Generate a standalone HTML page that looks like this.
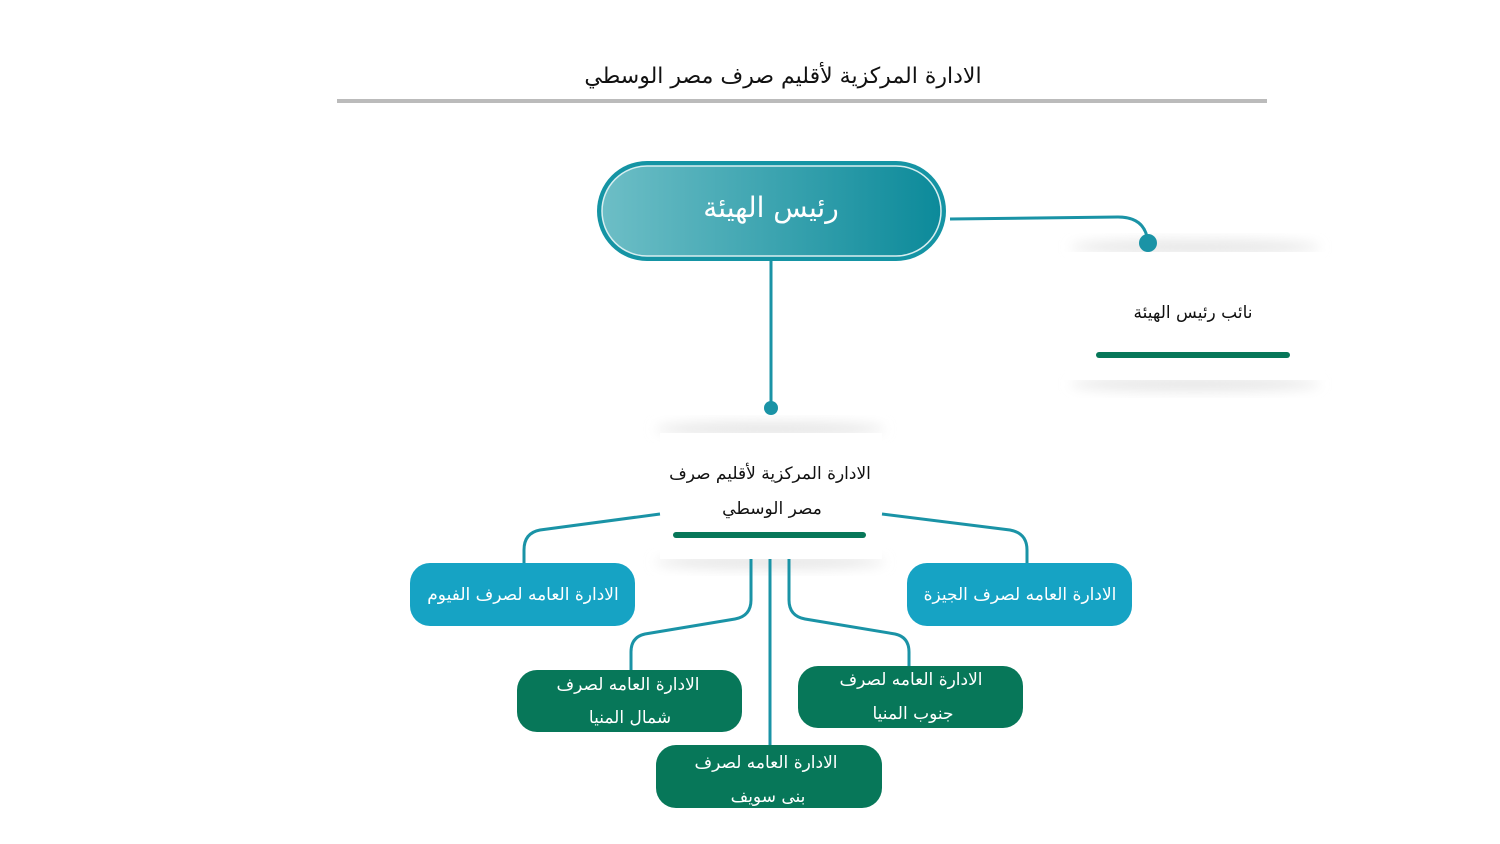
<!DOCTYPE html>
<html><head><meta charset="utf-8"><style>
html,body{margin:0;padding:0;background:#fff;width:1500px;height:844px;overflow:hidden}
svg text{font-family:"DejaVu Sans","Noto Sans CJK SC",sans-serif}
</style></head><body>
<svg width="1500" height="844" viewBox="0 0 1500 844" xmlns="http://www.w3.org/2000/svg">
<defs>
<linearGradient id="g" x1="0" x2="1" y1="0" y2="0"><stop offset="0" stop-color="#6dbec6"/><stop offset="1" stop-color="#0c8a9a"/></linearGradient>
<filter id="b" x="-20%" y="-50%" width="140%" height="200%"><feGaussianBlur stdDeviation="6"/></filter>
</defs>
<text x="783" y="83" font-size="22" text-anchor="middle" fill="#111" direction="rtl">الادارة المركزية لأقليم صرف مصر الوسطي</text>
<rect x="337" y="99" width="930" height="4" fill="#bbb"/>

<!-- shadows -->
<ellipse cx="1195" cy="247" rx="125" ry="7" fill="#e6e6e6" filter="url(#b)"/>
<ellipse cx="1195" cy="384" rx="125" ry="7" fill="#e6e6e6" filter="url(#b)"/>
<rect x="1065" y="252" width="260" height="128" fill="#fff"/>
<ellipse cx="770" cy="429" rx="115" ry="7" fill="#e6e6e6" filter="url(#b)"/>
<ellipse cx="770" cy="562" rx="115" ry="7" fill="#e6e6e6" filter="url(#b)"/>
<rect x="660" y="433" width="222" height="126" fill="#fff"/>

<!-- top pill -->
<rect x="597" y="161" width="349" height="100" rx="50" fill="#1594a4"/>
<rect x="602" y="166" width="339" height="90" rx="45" fill="url(#g)" stroke="#d9eef0" stroke-width="1.5"/>
<text x="771" y="217" font-size="28" text-anchor="middle" fill="#fff" direction="rtl">رئيس الهيئة</text>

<g fill="none" stroke="#1a93a6" stroke-width="3">
<path d="M950 219 L1118 217 Q1146 217 1148 243"/>
<path d="M771 261 L771 408"/>
<path d="M660 514 L540 530 Q524 533 524 550 L524 563"/>
<path d="M882 514 L1010 530 Q1027 533 1027 550 L1027 563"/>
<path d="M751 559 L751 600 Q751 616 735 619 L645 634 Q631 637 631 652 L631 670"/>
<path d="M789 559 L789 600 Q789 616 805 619 L895 634 Q909 637 909 652 L909 666"/>
<path d="M770 559 L770 745"/>
</g>
<circle cx="1148" cy="243" r="9" fill="#1a93a6"/>
<circle cx="771" cy="408" r="7" fill="#1a93a6"/>

<text x="1193" y="318" font-size="17" text-anchor="middle" fill="#111" direction="rtl">نائب رئيس الهيئة</text>
<rect x="1096" y="352" width="194" height="6" rx="3" fill="#077759"/>

<text x="770" y="479" font-size="17" text-anchor="middle" fill="#111" direction="rtl">الادارة المركزية لأقليم صرف</text>
<text x="772" y="514" font-size="17" text-anchor="middle" fill="#111" direction="rtl">مصر الوسطي</text>
<rect x="673" y="532" width="193" height="6" rx="3" fill="#077759"/>

<!-- boxes -->
<rect x="410" y="563" width="225" height="63" rx="20" fill="#16a3c4"/>
<text x="523" y="600" font-size="17" text-anchor="middle" fill="#fff" direction="rtl">الادارة العامه لصرف الفيوم</text>
<rect x="907" y="563" width="225" height="63" rx="20" fill="#16a3c4"/>
<text x="1020" y="600" font-size="17" text-anchor="middle" fill="#fff" direction="rtl">الادارة العامه لصرف الجيزة</text>

<rect x="517" y="670" width="225" height="62" rx="20" fill="#077759"/>
<text x="628" y="690" font-size="17" text-anchor="middle" fill="#fff" direction="rtl">الادارة العامه لصرف</text>
<text x="630" y="723" font-size="17" text-anchor="middle" fill="#fff" direction="rtl">شمال المنيا</text>

<rect x="798" y="666" width="225" height="62" rx="20" fill="#077759"/>
<text x="911" y="685" font-size="17" text-anchor="middle" fill="#fff" direction="rtl">الادارة العامه لصرف</text>
<text x="913" y="719" font-size="17" text-anchor="middle" fill="#fff" direction="rtl">جنوب المنيا</text>

<rect x="656" y="745" width="226" height="63" rx="20" fill="#077759"/>
<text x="766" y="768" font-size="17" text-anchor="middle" fill="#fff" direction="rtl">الادارة العامه لصرف</text>
<text x="768" y="802" font-size="17" text-anchor="middle" fill="#fff" direction="rtl">بنى سويف</text>
</svg>
</body></html>
